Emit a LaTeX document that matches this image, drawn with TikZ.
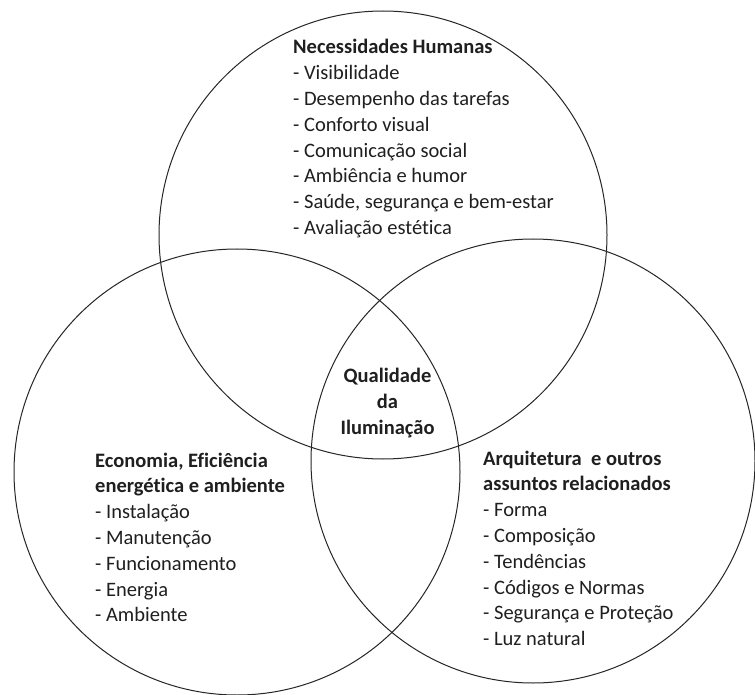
\documentclass[tikz,border=0pt]{standalone}
\usepackage{fontspec}
\setmainfont{Carlito}[RawFeature=-liga]
\begin{document}
\begin{tikzpicture}[x=1pt,y=-1pt,
  ring/.style={circle, draw=black!85, line width=1pt, inner sep=0pt, outer sep=0pt, minimum size=#1},
  lbl/.style={anchor=base west, inner sep=0pt, text=black!88, font=\fontsize{20.5}{20.5}\selectfont},
  hdr/.style={lbl, font=\fontsize{20.5}{20.5}\selectfont\bfseries},
  ctr/.style={anchor=base, inner sep=0pt, text=black!88, font=\fontsize{20.5}{20.5}\selectfont\bfseries}]
\useasboundingbox (0,0) rectangle (755,695);
\fill[white] (0,0) rectangle (755,695);
% circles
\node[ring=448pt] (ctop) at (383,235) {};
\node[ring=446pt] (cleft) at (237,472) {};
\node[ring=444pt] (cright) at (533,461) {};
% top block
\node[hdr] (t0) at (293,54) {Necessidades Humanas};
\node[lbl] (t1) at (293,79.8) {- Visibilidade};
\node[lbl] (t2) at (293,105.6) {- Desempenho das tarefas};
\node[lbl] (t3) at (293,131.4) {- Conforto visual};
\node[lbl] (t4) at (293,157.2) {- Comunicação social};
\node[lbl] (t5) at (293,183) {- Ambiência e humor};
\node[lbl] (t6) at (293,208.8) {- Saúde, segurança e bem-estar};
\node[lbl] (t7) at (293,234.6) {- Avaliação estética};
% center
\node[ctr] (q1) at (387.5,382) {Qualidade};
\node[ctr] (q2) at (387.5,408) {da};
\node[ctr] (q3) at (387.5,434) {Iluminação};
% left block
\node[hdr] (l0) at (95,467) {Economia, Eficiência};
\node[hdr] (l1) at (95,492.8) {energética e ambiente};
\node[lbl] (l2) at (95,518.6) {- Instalação};
\node[lbl] (l3) at (95,544.4) {- Manutenção};
\node[lbl] (l4) at (95,570.2) {- Funcionamento};
\node[lbl] (l5) at (95,596) {- Energia};
\node[lbl] (l6) at (95,621.8) {- Ambiente};
% right block
\node[hdr] (r0) at (483,465) {Arquitetura\ \ e outros};
\node[hdr] (r1) at (483,490.8) {assuntos relacionados};
\node[lbl] (r2) at (483,516.6) {- Forma};
\node[lbl] (r3) at (483,542.4) {- Composição};
\node[lbl] (r4) at (483,568.2) {- Tendências};
\node[lbl] (r5) at (483,594) {- Códigos e Normas};
\node[lbl] (r6) at (483,619.8) {- Segurança e Proteção};
\node[lbl] (r7) at (483,645.6) {- Luz natural};
\end{tikzpicture}
\end{document}
